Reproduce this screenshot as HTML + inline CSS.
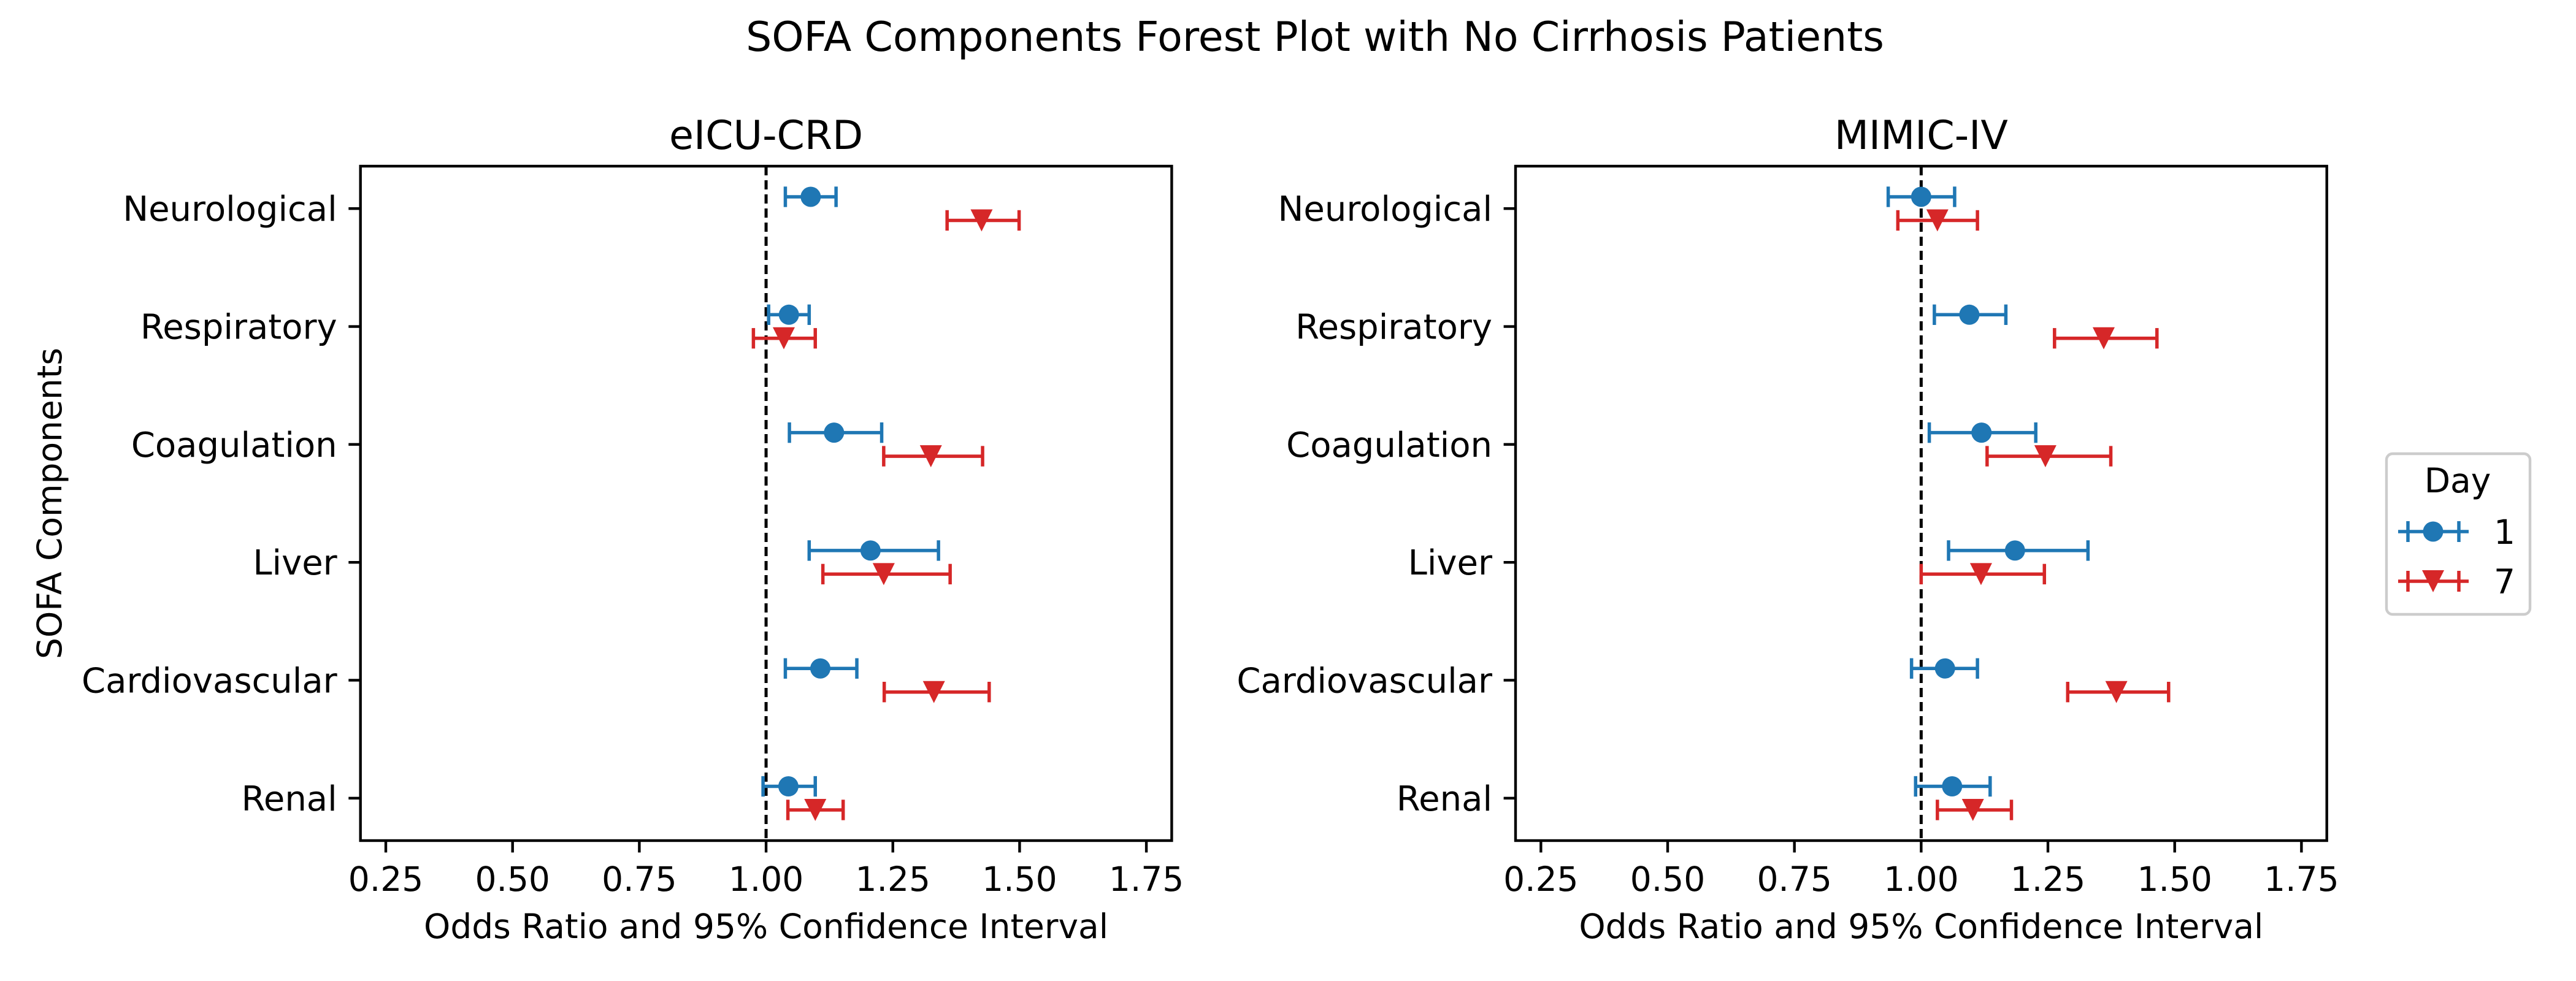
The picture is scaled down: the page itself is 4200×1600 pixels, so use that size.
<!DOCTYPE html>
<html><head><meta charset="utf-8"><style>
html,body{margin:0;padding:0;background:#fff;}
svg{display:block;font-family:"DejaVu Sans","Liberation Sans",sans-serif;}
</style></head><body>
<svg id="fig" width="4200" height="1600" viewBox="0 0 4200 1600" xmlns="http://www.w3.org/2000/svg">
<rect width="4200" height="1600" fill="#fff"/>
<text x="2144" y="83" font-size="66.5" text-anchor="middle">SOFA Components Forest Plot with No Cirrhosis Patients</text>
<text transform="translate(100,821) rotate(-90)" font-size="55" text-anchor="middle">SOFA Components</text>
<g id="legend">
<rect x="3891" y="740" width="234" height="262" rx="10" fill="#fff" stroke="#ccc" stroke-width="4.4"/>
<text x="4007" y="803" font-size="55" text-anchor="middle">Day</text>
<g>
<line x1="3910" y1="867" x2="4025" y2="867" stroke="#1f77b4" stroke-width="5.5"/>
<line x1="3926" y1="850" x2="3926" y2="884" stroke="#1f77b4" stroke-width="5.5"/>
<line x1="4009" y1="850" x2="4009" y2="884" stroke="#1f77b4" stroke-width="5.5"/>
<circle cx="3967" cy="867" r="16.5" fill="#1f77b4"/>
<text x="4066" y="887" font-size="55">1</text>
</g>
<g>
<line x1="3910" y1="948" x2="4025" y2="948" stroke="#d62728" stroke-width="5.5"/>
<line x1="3926" y1="931" x2="3926" y2="965" stroke="#d62728" stroke-width="5.5"/>
<line x1="4009" y1="931" x2="4009" y2="965" stroke="#d62728" stroke-width="5.5"/>
<polygon points="3949,930 3985,930 3967,966" fill="#d62728"/>
<text x="4066" y="968" font-size="55">7</text>
</g>
</g>
</svg>
<script>
const categories = ["Neurological","Respiratory","Coagulation","Liver","Cardiovascular","Renal"];
const xTicks = [0.25,0.50,0.75,1.00,1.25,1.50,1.75];
const xTickLabels = ["0.25","0.50","0.75","1.00","1.25","1.50","1.75"];
const panelTitles = ["eICU-CRD","MIMIC-IV"];
// eICU-CRD
const eicuDay1OR = [1.088,1.045,1.134,1.206,1.107,1.044];
const eicuDay1Lo = [1.038,1.005,1.046,1.085,1.038,0.994];
const eicuDay1Hi = [1.138,1.085,1.228,1.340,1.179,1.097];
const eicuDay7OR = [1.425,1.035,1.325,1.232,1.331,1.097];
const eicuDay7Lo = [1.357,0.975,1.232,1.112,1.233,1.043];
const eicuDay7Hi = [1.499,1.097,1.427,1.363,1.440,1.152];
// MIMIC-IV
const mimicDay1OR = [1.000,1.095,1.119,1.185,1.047,1.061];
const mimicDay1Lo = [0.935,1.026,1.016,1.054,0.981,0.989];
const mimicDay1Hi = [1.066,1.167,1.226,1.329,1.111,1.136];
const mimicDay7OR = [1.032,1.360,1.245,1.118,1.385,1.102];
const mimicDay7Lo = [0.954,1.263,1.130,1.000,1.289,1.032];
const mimicDay7Hi = [1.111,1.465,1.374,1.243,1.488,1.178];

const NS="http://www.w3.org/2000/svg";
const svg=document.getElementById('fig');
function mk(tag,attrs,parent){const e=document.createElementNS(NS,tag);for(const k in attrs)e.setAttribute(k,attrs[k]);(parent||svg).appendChild(e);return e;}
const TOP=271, BOT=1371, W=1322.7;
const XMIN=0.2, XMAX=1.8, YMIN=-0.36, YMAX=5.36;
function drawPanel(left, title, d1, d1lo, d1hi, d7, d7lo, d7hi, key){
  const g=mk('g',{});
  
  
  const xs=v=>left+(v-XMIN)/(XMAX-XMIN)*W;
  const ys=v=>TOP+(v-YMIN)/(YMAX-YMIN)*(BOT-TOP);
  const t=mk('text',{x:left+W/2,y:243,'font-size':65,'text-anchor':'middle'},g);
  t.textContent=title;
  
  
  const rl=mk('line',{x1:xs(1),x2:xs(1),y1:TOP,y2:BOT,stroke:'#000','stroke-width':5,'stroke-dasharray':'15,8'},g);
  
  
  function series(or,lo,hi,off,color,marker,day){
    for(let i=0;i<categories.length;i++){
      const y=ys(i+off);
      const s=mk('g',{},g);
      
      
      mk('line',{x1:xs(lo[i]),x2:xs(hi[i]),y1:y,y2:y,stroke:color,'stroke-width':5.5},s);
      mk('line',{x1:xs(lo[i]),x2:xs(lo[i]),y1:y-16.7,y2:y+16.7,stroke:color,'stroke-width':5.5},s);
      mk('line',{x1:xs(hi[i]),x2:xs(hi[i]),y1:y-16.7,y2:y+16.7,stroke:color,'stroke-width':5.5},s);
      const cx=xs(or[i]);
      if(marker==='o') mk('circle',{cx:cx,cy:y,r:16.5,fill:color},s);
      else mk('polygon',{points:`${cx-18},${y-18} ${cx+18},${y-18} ${cx},${y+18}`,fill:color},s);
    }
  }
  series(d1,d1lo,d1hi,-0.1,'#1f77b4','o',1);
  series(d7,d7lo,d7hi,0.1,'#d62728','v',7);
  const fr=mk('rect',{x:left,y:TOP,width:W,height:BOT-TOP,fill:'none',stroke:'#000','stroke-width':4.4},g);
  
  
  for(let i=0;i<xTicks.length;i++){
    const x=xs(xTicks[i]);
    mk('line',{x1:x,x2:x,y1:BOT,y2:BOT+19.4,stroke:'#000','stroke-width':4.4},g);
    const tl=mk('text',{x:x,y:1453,'font-size':55,'text-anchor':'middle'},g);
    tl.textContent=xTickLabels[i];
    
    
  }
  for(let i=0;i<categories.length;i++){
    const y=ys(i);
    mk('line',{x1:left-19.4,x2:left,y1:y,y2:y,stroke:'#000','stroke-width':4.4},g);
    const tl=mk('text',{x:left-38,y:y+20,'font-size':56,'text-anchor':'end'},g);
    tl.textContent=categories[i];
    
    
  }
  const xl=mk('text',{x:left+W/2,y:1530,'font-size':55,'text-anchor':'middle'},g);
  xl.textContent='Odds Ratio and 95% Confidence Interval';
  
  
}
drawPanel(587.7,panelTitles[0],eicuDay1OR,eicuDay1Lo,eicuDay1Hi,eicuDay7OR,eicuDay7Lo,eicuDay7Hi,'eicu');
drawPanel(2471,panelTitles[1],mimicDay1OR,mimicDay1Lo,mimicDay1Hi,mimicDay7OR,mimicDay7Lo,mimicDay7Hi,'mimic');
</script>
</body></html>
